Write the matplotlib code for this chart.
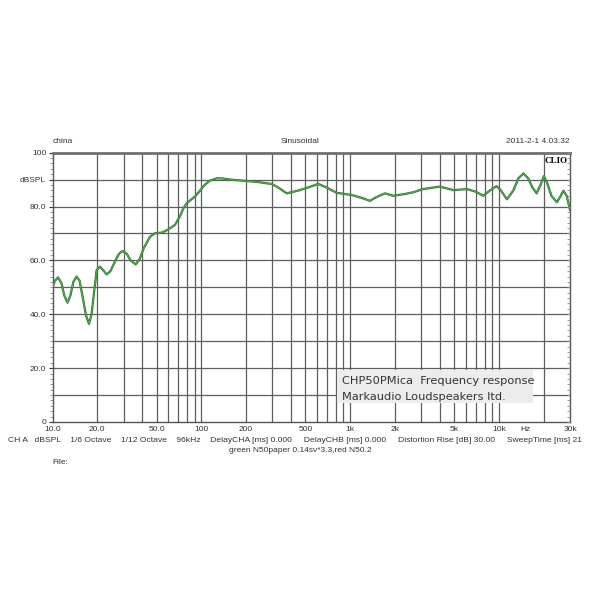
import matplotlib
matplotlib.use("Agg")
import matplotlib.pyplot as plt
from matplotlib.ticker import FixedLocator, NullFormatter

plt.rcParams['font.family'] = ['Liberation Sans', 'DejaVu Sans']

freq = [10, 10.4, 10.9, 11.5, 12.0, 12.6, 13.2, 13.8, 14.5, 15.2, 16.0, 16.8, 17.6, 18.3, 19.0,
        19.8, 20.8, 21.8, 23.1, 24.5, 26.5, 28.0, 29.6, 31.5, 33.5, 36.2, 38.5, 41, 45.2, 48.9,
        54.2, 60, 66.5, 72, 76, 79.8, 85, 90.6, 97.9, 105, 114, 127, 140, 164, 191, 240, 297,
        330, 375, 459, 530, 609, 700, 810, 1022, 1200, 1355, 1500, 1716, 1947, 2300, 2650,
        3090, 4000, 4960, 6080, 7000, 7840, 8700, 9620, 10300, 11300, 12500, 13500, 14600,
        15700, 16800, 17900, 19000, 20000, 21000, 22500, 24500, 26000, 27100, 28500, 30000]
spl = [50.0, 52.5, 53.7, 51.5, 47, 44.3, 47, 52, 54.0, 52.5, 46, 39.5, 36.4, 40, 48,
       56.4, 57.7, 56.5, 54.8, 56, 60, 62.5, 63.5, 62.5, 60, 58.5, 60.5, 64.5, 68.8, 70.1,
       70.3, 71.5, 73.2, 76.5, 79.5, 81.2, 82.5, 83.7, 85.9, 88, 89.6, 90.5, 90.4, 89.9, 89.6, 89.1, 88.4,
       87, 84.9, 86.1, 87.2, 88.4, 87, 85.1, 84.3, 83.2, 82.1, 83.5, 84.9, 84.0, 84.6, 85.3,
       86.5, 87.4, 86.1, 86.5, 85.5, 84.0, 86, 87.6, 86, 82.7, 86, 90.5, 92.3,
       90.5, 87, 84.9, 88, 91.3, 89, 84, 81.6, 84, 85.9, 84, 78.7]

x_grid = [20, 30, 40, 50, 60, 70, 80, 90, 100, 200, 300, 400, 500, 600, 700, 800, 900,
          1000, 2000, 3000, 4000, 5000, 6000, 7000, 8000, 9000, 10000, 20000]
x_label_pos = [10, 20, 50, 100, 200, 500, 1000, 2000, 5000, 10000, 15000, 30000]
x_labels = ['10.0', '20.0', '50.0', '100', '200', '500', '1k', '2k', '5k', '10k', 'Hz', '30k']
y_label_pos = [0, 20, 40, 60, 80, 90, 100]
y_labels = ['0', '20.0', '40.0', '60.0', '80.0', 'dBSPL', '100']

fig = plt.figure(figsize=(6, 6), dpi=100)
ax = fig.add_axes([0.0875, 0.2967, 0.8625, 0.4488])
ax.set_xscale('log')
ax.set_xlim(10, 30000)
ax.set_ylim(0, 100)

gc = '#5e5e5e'
for xv in x_grid:
    ax.axvline(xv, color=gc, lw=0.9, zorder=1)
for yv in range(10, 100, 10):
    ax.axhline(yv, color=gc, lw=0.9, zorder=1)

ax.plot(freq, spl, color='#2f6a2f', lw=1.6, zorder=3, solid_joinstyle='round')
ax.plot(freq, spl, color='#4fae4f', lw=0.8, zorder=4, solid_joinstyle='round')

ax.xaxis.set_major_locator(FixedLocator(x_label_pos))
ax.set_xticklabels(x_labels)
ax.xaxis.set_minor_locator(FixedLocator([]))
ax.xaxis.set_minor_formatter(NullFormatter())
ax.tick_params(axis='x', length=0, labelsize=6, pad=3, colors='#333333')
ax.set_yticks(y_label_pos)
ax.set_yticklabels(y_labels)
ax.set_yticks(range(0, 101, 2), minor=True)
ax.tick_params(axis='y', which='major', length=3, labelsize=6, pad=1.5, colors='#333333',
               left=True, right=False, direction='out')
ax.tick_params(axis='y', which='minor', length=2.5, left=True, right=False, direction='out',
               color='#888888')

axr = ax.twinx()
axr.set_ylim(0, 100)
axr.set_yticks(y_label_pos)
axr.set_yticklabels([])
axr.set_yticks(range(0, 101, 2), minor=True)
axr.tick_params(axis='y', which='both', direction='in', length=2.5, color='#888888',
                left=False, right=True)
for s in axr.spines.values():
    s.set_visible(False)

for s in ['left', 'bottom', 'right']:
    ax.spines[s].set_color('#555555')
    ax.spines[s].set_linewidth(1.0)
ax.spines['top'].set_color('#707070')
ax.spines['top'].set_linewidth(2.0)

ax.text(0.995, 0.985, 'CLIO', transform=ax.transAxes, ha='right', va='top',
        fontsize=6.5, fontweight='bold', family=['Liberation Serif', 'DejaVu Serif'], zorder=6)

fig.text(0.0875, 0.758, 'china', fontsize=6, color='#333333', ha='left', va='bottom')
fig.text(0.5, 0.758, 'Sinusoidal', fontsize=6, color='#333333', ha='center', va='bottom')
fig.text(0.95, 0.758, '2011-2-1 4.03.32', fontsize=6, color='#333333', ha='right', va='bottom')

fig.text(0.013, 0.265, 'CH A   dBSPL    1/6 Octave    1/12 Octave    96kHz    DelayCHA [ms] 0.000     '
         'DelayCHB [ms] 0.000     Distortion Rise [dB] 30.00     SweepTime [ms] 21',
         fontsize=6.1, color='#333333', ha='left', va='center')
fig.text(0.5, 0.25, 'green N50paper 0.14sv*3.3,red N50.2', fontsize=6, color='#333333',
         ha='center', va='center')
fig.text(0.0875, 0.23, 'File:', fontsize=6, color='#333333', ha='left', va='center')

fig.patches.append(plt.Rectangle((0.562, 0.328), 0.327, 0.056, transform=fig.transFigure,
                                 facecolor='#ececec', edgecolor='none', zorder=5))
fig.text(0.57, 0.365, 'CHP50PMica  Frequency response', fontsize=8.2, color='#333333',
         family=['DejaVu Sans'], ha='left', va='center', zorder=6)
fig.text(0.57, 0.339, 'Markaudio Loudspeakers ltd.', fontsize=8.2, color='#333333',
         family=['DejaVu Sans'], ha='left', va='center', zorder=6)

fig.savefig('out.png', dpi=100)
